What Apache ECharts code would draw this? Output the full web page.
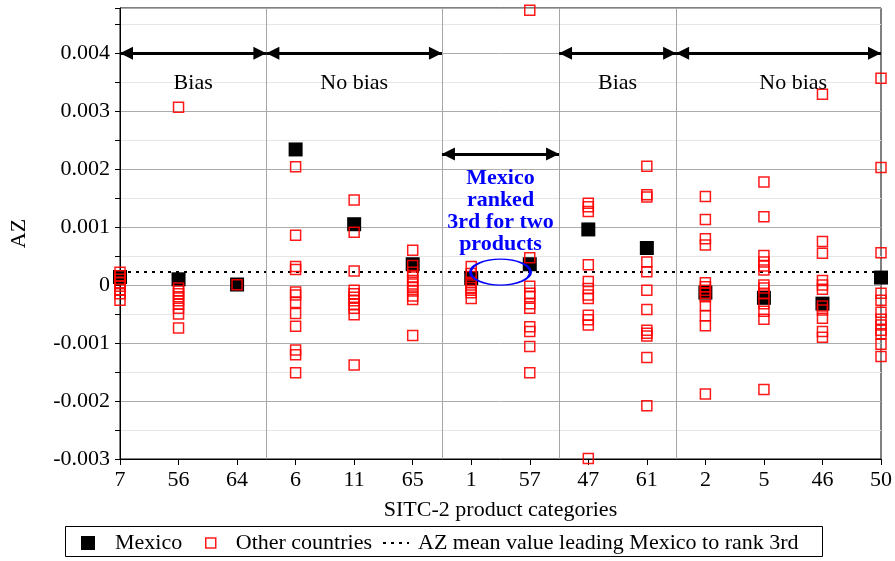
<!DOCTYPE html>
<html><head><meta charset="utf-8">
<script src="https://cdn.jsdelivr.net/npm/echarts@6/dist/echarts.min.js"></script>
<style>html,body{margin:0;padding:0;background:#fff}#c{width:895px;height:561px}</style>
</head><body><div id="c"></div>
<script>
const categories = ['7','56','64','6','11','65','1','57','47','61','2','5','46','50'];
const mexicoAZ = [0.00014, 0.0001, 0.00001, 0.00234, 0.00105, 0.00036, 0.00012, 0.00036, 0.00096, 0.00064, -0.00013, -0.00022, -0.00032, 0.00013];
const otherAZ = [
  [0.00022, 0.00016, 0.0001, 0.00004, -0.00002, -0.00008, -0.00015, -0.00026],
  [0.00307, -0.00005, -0.0001, -0.00015, -0.0002, -0.00027, -0.00033, -0.0004, -0.0005, -0.00074],
  [0.000005],
  [0.00204, 0.00086, 0.00032, 0.00027, -0.00012, -0.00017, -0.0003, -0.00049, -0.00071, -0.00112, -0.0012, -0.00151],
  [0.00147, 0.00091, 0.000245, -0.00009, -0.00015, -0.00021, -0.00027, -0.00033, -0.0004, -0.00051, -0.00138],
  [0.0006, 0.00034, 0.00022, 0.00014, 0.00008, 0.00002, -0.00004, -0.0001, -0.00019, -0.00025, -0.00087],
  [0.00032, 0.0002, 0.00005, 0, -0.00004, -0.00009, -0.00013, -0.00023],
  [0.00474, 0.00047, -0.00002, -0.00014, -0.0002, -0.00032, -0.0004, -0.00072, -0.0008, -0.00106, -0.00151],
  [0.00141, 0.00135, 0.00127, 0.00035, 0.00006, -0.00006, -0.00017, -0.00023, -0.00052, -0.0006, -0.00069, -0.00299],
  [0.00205, 0.00156, 0.00152, 0.0004, 0.00023, -0.00009, -0.00042, -0.00078, -0.00083, -0.00088, -0.00125, -0.00208],
  [0.00153, 0.00113, 0.0008, 0.00069, 0.00004, -0.00003, -0.00009, -0.00014, -0.0002, -0.00035, -0.00053, -0.0007, -0.00188],
  [0.00178, 0.00118, 0.00051, 0.0004, 0.00033, 0.00026, 0, -0.00005, -0.00014, -0.00032, -0.00045, -0.00059, -0.0018],
  [0.00329, 0.00075, 0.00055, 0.00008, 0, -0.00007, -0.00036, -0.00043, -0.00057, -0.0008, -0.0009],
  [0.00357, 0.00203, 0.00056, -0.00014, -0.00026, -0.00047, -0.00059, -0.00069, -0.00078, -0.00084, -0.00102, -0.00123]
];
const meanAZ = 0.000224;
const groupLabels = ['Bias', 'No bias', 'Bias', 'No bias'];
const groupFirst = [0, 3, 8, 10];
const groupLast = [2, 5, 9, 13];
const groupLabelX = [1.25, 4, 8.5, 11.5];
const groupArrowY = 0.004;
const groupLabelY = 0.00348;
const noteText = 'Mexico\nranked\n3rd for two\nproducts';
const noteFirst = 6, noteLast = 7;
const noteArrowY = 0.00226;
const noteTextY = 0.00128;

const seriesNames = ['Mexico', 'Other countries', 'AZ mean value leading Mexico to rank 3rd'];
const FONT = 'Liberation Serif';
const lastIdx = categories.length - 1;

const groupFrom = groupFirst.map(i => Math.max(0, i - 0.5));
const groupTo = groupLast.map(i => Math.min(lastIdx, i + 0.5));
const noteFrom = noteFirst - 0.5, noteTo = noteLast + 0.5, noteX = (noteFirst + noteLast) / 2;
const separators = [];
groupFrom.concat(groupTo).forEach(x => { if (x > 0 && x < lastIdx && separators.indexOf(x) < 0) separators.push(x); });

const otherData = [];
otherAZ.forEach((arr, i) => arr.forEach(v => otherData.push([i, v])));

const arrowData = groupFrom.map((f, i) => [{coord: [f, groupArrowY]}, {coord: [groupTo[i], groupArrowY]}]);
arrowData.push([{coord: [noteFrom, noteArrowY]}, {coord: [noteTo, noteArrowY]}]);

const noteData = groupLabels.map((t, i) => ({value: [groupLabelX[i], groupLabelY], label: {formatter: t}}));
noteData.push({value: [noteX, noteTextY], label: {formatter: noteText, color: '#0000ff', fontWeight: 'bold', lineHeight: 22}});

const chart = echarts.init(document.getElementById('c'), null, {renderer: 'canvas'});
const txt = {fontFamily: FONT, fontSize: 22, color: '#000'};
chart.setOption({
  animation: false,
  backgroundColor: '#fff',
  grid: {left: 117, right: 11, top: 8, bottom: 102, show: true, borderColor: '#000', borderWidth: 1, containLabel: false},
  xAxis: {
    type: 'value', min: 0, max: lastIdx, interval: 1,
    name: 'SITC-2 product categories', nameLocation: 'middle', nameGap: 40, nameTextStyle: txt,
    axisLine: {onZero: false, lineStyle: {color: '#000', width: 1}},
    axisTick: {length: 6, lineStyle: {color: '#000'}},
    axisLabel: Object.assign({margin: 10, formatter: v => categories[Math.round(v)] || ''}, txt),
    splitLine: {show: false}
  },
  yAxis: {
    type: 'value', min: -0.003, max: 0.00478, interval: 0.0005,
    name: 'AZ', nameLocation: 'middle', nameGap: 90, nameTextStyle: txt,
    axisLine: {onZero: false, lineStyle: {color: '#000', width: 1}},
    axisTick: {length: 5, lineStyle: {color: '#000'}},
    axisLabel: Object.assign({margin: 10, formatter: function (v) {
      const k = v * 1000, r = Math.round(k);
      if (Math.abs(k - r) > 1e-6) return '';
      return String(r / 1000);
    }}, txt),
    splitLine: {show: true, lineStyle: {color: ['#ababab', '#e6e6e6'], width: 1}}
  },
  legend: [
    {data: [seriesNames[0]], left: 81, top: 532, padding: 0, itemWidth: 44, itemHeight: 14, icon: 'path://M0 0H10V10H0Z', symbolKeepAspect: true, selectedMode: false, textStyle: txt},
    {data: [seriesNames[1]], left: 205, top: 532, padding: 0, itemWidth: 40, itemHeight: 10, icon: 'path://M0 0H10V10H0Z', symbolKeepAspect: true, selectedMode: false, textStyle: txt,
      itemStyle: {color: 'rgba(255,255,255,0)', borderColor: '#ff0000', borderWidth: 1.5}},
    {data: [seriesNames[2]], left: 382, top: 532, padding: 0, itemWidth: 26, itemHeight: 14, selectedMode: false, textStyle: Object.assign({padding: [0, 0, 0, 4]}, txt),
      itemStyle: {color: 'rgba(0,0,0,0)', borderWidth: 0, opacity: 0}, lineStyle: {color: '#000', width: 2, type: [3, 5]}}
  ],
  graphic: [{type: 'rect', shape: {x: 65.5, y: 526.5, width: 757, height: 30}, style: {fill: 'none', stroke: '#000', lineWidth: 1}, silent: true}],
  series: [
    {
      name: seriesNames[2], type: 'line', data: [[0, meanAZ], [lastIdx, meanAZ]], symbol: 'none', silent: true, z: 2,
      itemStyle: {color: 'rgba(0,0,0,0)'},
      lineStyle: {color: '#000', width: 2, type: [3, 5]},
      markLine: {silent: true, symbol: 'none', label: {show: false}, lineStyle: {color: '#a6a6a6', width: 1, type: 'solid'},
        data: separators.map(x => ({xAxis: x}))}
    },
    {
      name: seriesNames[0], type: 'scatter', symbol: 'rect', symbolSize: 14, clip: false, z: 3,
      itemStyle: {color: '#000', opacity: 1},
      data: mexicoAZ.map((v, i) => [i, v])
    },
    {
      name: seriesNames[1], type: 'scatter', symbol: 'rect', symbolSize: 10, clip: false, z: 4,
      itemStyle: {color: 'rgba(255,255,255,0)', borderColor: '#ff0000', borderWidth: 1.5, opacity: 0.9},
      data: otherData
    },
    {
      name: 'ellipse', type: 'scatter', symbol: 'circle', symbolSize: [60, 26], clip: false, z: 5, silent: true,
      itemStyle: {color: 'rgba(255,255,255,0)', borderColor: '#0000ff', borderWidth: 2, opacity: 1},
      data: [[noteX, meanAZ]]
    },
    {
      name: 'notes', type: 'scatter', symbolSize: 1, clip: false, z: 6, silent: true,
      itemStyle: {color: 'rgba(0,0,0,0)', opacity: 1},
      label: {show: true, position: 'inside', fontFamily: FONT, fontSize: 22, color: '#000', opacity: 1, align: 'center', verticalAlign: 'middle'},
      data: noteData,
      markLine: {silent: true, symbol: ['triangle', 'triangle'], symbolSize: 13, symbolOffset: [[0, 6.5], [0, 6.5]],
        label: {show: false}, lineStyle: {color: '#000', width: 3, type: 'solid'}, data: arrowData}
    }
  ]
});
</script></body></html>
